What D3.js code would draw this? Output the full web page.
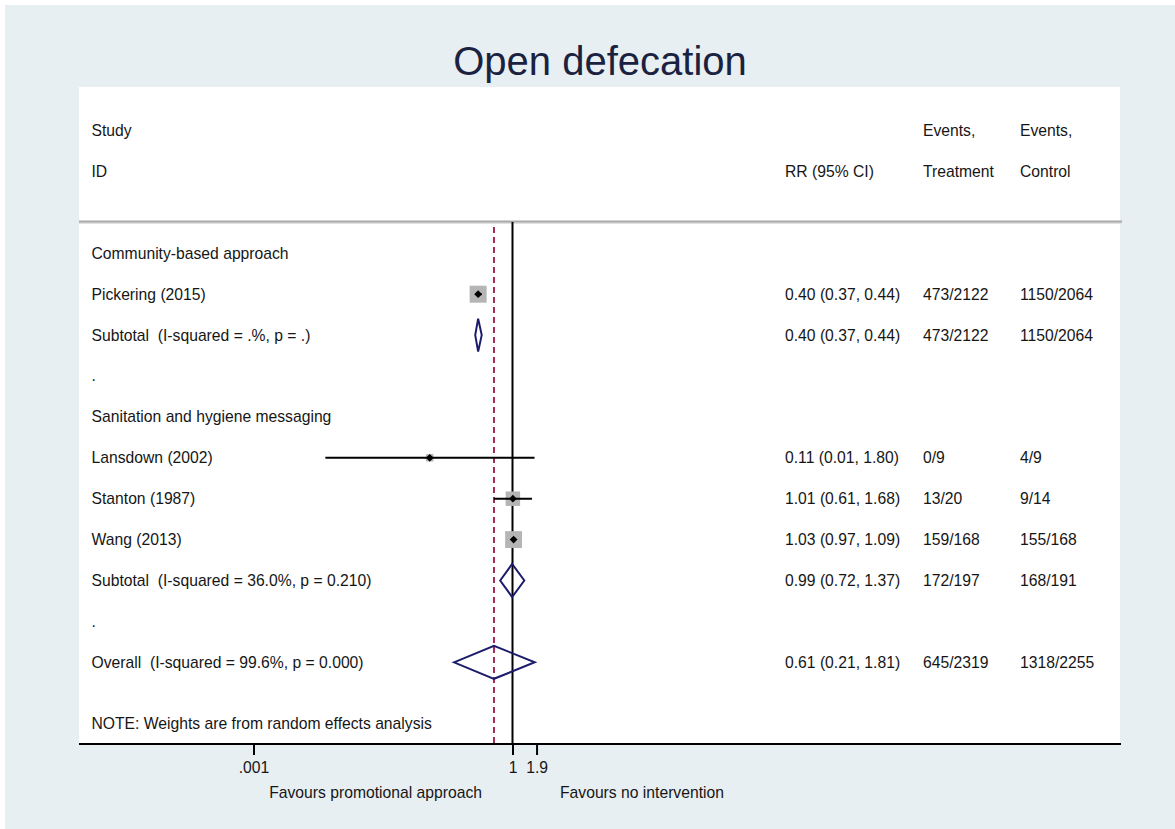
<!DOCTYPE html>
<html><head><meta charset="utf-8">
<script src="https://cdn.jsdelivr.net/npm/d3@7"></script>
<style>
body{margin:0;background:#fff}
svg{display:block}
text{font-family:Arial,"Liberation Sans",sans-serif;white-space:pre}
</style></head>
<body><svg id="chart" width="1175" height="829"></svg>
<script>
// ---- data ----
const chartTitle = "Open defecation";
const headerLeft = ["Study", "ID"];
const headerCI = "RR (95% CI)";
const headerTreat = ["Events,", "Treatment"];
const headerCtrl = ["Events,", "Control"];
const rowLabels = [
  "Community-based approach",
  "Pickering (2015)",
  "Subtotal  (I-squared = .%, p = .)",
  ".",
  "Sanitation and hygiene messaging",
  "Lansdown (2002)",
  "Stanton (1987)",
  "Wang (2013)",
  "Subtotal  (I-squared = 36.0%, p = 0.210)",
  ".",
  "Overall  (I-squared = 99.6%, p = 0.000)"
];
const rowTypes = ["group","study","subtotal","blank","group","study","study","study","subtotal","blank","overall"];
const rr    = [null, 0.40, 0.40, null, null, 0.11,   1.01, 1.03, 0.99, null, 0.61];
const lower = [null, 0.37, 0.37, null, null, 0.0068, 0.61, 0.97, 0.72, null, 0.21];
const upper = [null, 0.44, 0.44, null, null, 1.80,   1.68, 1.09, 1.37, null, 1.81];
const weights = [null, 34.5, null, null, null, 6.5, 25.0, 34.0, null, null, null];
const ciText = ["", "0.40 (0.37, 0.44)", "0.40 (0.37, 0.44)", "", "", "0.11 (0.01, 1.80)", "1.01 (0.61, 1.68)", "1.03 (0.97, 1.09)", "0.99 (0.72, 1.37)", "", "0.61 (0.21, 1.81)"];
const eventsTreatment = ["", "473/2122", "473/2122", "", "", "0/9", "13/20", "159/168", "172/197", "", "645/2319"];
const eventsControl   = ["", "1150/2064", "1150/2064", "", "", "4/9", "9/14", "155/168", "168/191", "", "1318/2255"];
const overallRR = 0.61;
const axisTicks = [0.001, 1, 1.9];
const axisTickLabels = [".001", "1", "1.9"];
const favoursLeft = "Favours promotional approach";
const favoursRight = "Favours no intervention";
const noteText = "NOTE: Weights are from random effects analysis";

// ---- layout ----
const svg = d3.select("#chart");
const W = 1175, H = 829;
const textCol = "#161616";
const fs = 15.7;

svg.append("rect").attr("width", W).attr("height", H).attr("fill", "#ffffff");
svg.append("rect").attr("x", 5).attr("y", 5).attr("width", W - 5).attr("height", H - 5).attr("fill", "#e8eff2");

const plotL = 79, plotR = 1120, plotT = 87, plotB = 744;
svg.append("rect").attr("x", plotL).attr("y", plotT).attr("width", plotR - plotL).attr("height", plotB - plotT).attr("fill", "#ffffff");

const x = d3.scaleLog().domain([0.001, 1]).range([253.5, 512.5]);
const y = d3.scaleLinear().domain([0, 10]).range([253.3, 662.3]);

// title
svg.append("text").attr("x", 600).attr("y", 75).attr("text-anchor", "middle")
  .attr("font-size", 40).attr("fill", "#1b2240").text(chartTitle);

// header
const colLeft = 91.5, colCI = 785, colTreat = 923, colCtrl = 1020;
function txt(xx, yy, s, anchor) {
  return svg.append("text").attr("x", xx).attr("y", yy).attr("dy", "0.35em")
    .attr("font-size", fs).attr("fill", textCol).attr("text-anchor", anchor || "start").text(s);
}
headerLeft.forEach((s, i) => txt(colLeft, y(-3 + i), s));
txt(colCI, y(-2), headerCI);
headerTreat.forEach((s, i) => txt(colTreat, y(-3 + i), s));
headerCtrl.forEach((s, i) => txt(colCtrl, y(-3 + i), s));

// separator under header
svg.append("line").attr("x1", plotL).attr("x2", plotR + 2).attr("y1", 223).attr("y2", 223)
  .attr("stroke", "#e0e0e0").attr("stroke-width", 2);
svg.append("line").attr("x1", plotL).attr("x2", plotR + 2).attr("y1", 221.5).attr("y2", 221.5)
  .attr("stroke", "#a9a9a9").attr("stroke-width", 2);

// reference lines
svg.append("line").attr("x1", x(1)).attr("x2", x(1)).attr("y1", 222).attr("y2", plotB)
  .attr("stroke", "#000").attr("stroke-width", 2);
svg.append("line").attr("x1", x(overallRR)).attr("x2", x(overallRR)).attr("y1", 227).attr("y2", plotB)
  .attr("stroke", "#a32a55").attr("stroke-width", 2).attr("stroke-dasharray", "6,4");

// row labels and columns
rowLabels.forEach((s, i) => {
  txt(colLeft, y(i), s);
  if (ciText[i]) txt(colCI, y(i), ciText[i]);
  if (eventsTreatment[i]) txt(colTreat, y(i), eventsTreatment[i]);
  if (eventsControl[i]) txt(colCtrl, y(i), eventsControl[i]);
});
txt(colLeft, y(11.5), noteText);

// study markers
const boxSide = d3.scaleSqrt().domain([0, 34.5]).range([0, 17]);
const rows = rowLabels.map((s, i) => ({i, type: rowTypes[i], rr: rr[i], lo: lower[i], hi: upper[i], w: weights[i]}));
const studies = rows.filter(d => d.type === "study");
const g = svg.append("g");
studies.forEach(d => {
  const cy = y(d.i), s = boxSide(d.w);
  g.append("rect").attr("x", x(d.rr) - s / 2).attr("y", cy - s / 2).attr("width", s).attr("height", s)
    .attr("fill", "#b5b5b5");
  g.append("line").attr("x1", x(d.lo)).attr("x2", x(d.hi)).attr("y1", cy).attr("y2", cy)
    .attr("stroke", "#000").attr("stroke-width", 2);
  g.append("path").attr("transform", `translate(${x(d.rr)},${cy}) rotate(45)`)
    .attr("d", d3.symbol().type(d3.symbolSquare).size(30)).attr("fill", "#000");
});

// diamonds
const pooled = rows.filter(d => d.type === "subtotal" || d.type === "overall");
pooled.forEach(d => {
  const cy = y(d.i), h = 16.5;
  const pts = [[x(d.lo), cy], [x(d.rr), cy - h], [x(d.hi), cy], [x(d.rr), cy + h]];
  g.append("path").attr("d", d3.line()(pts) + "Z")
    .attr("fill", "none").attr("stroke", "#1c1c6c").attr("stroke-width", 2).attr("stroke-linejoin", "miter");
});

// x axis
svg.append("line").attr("x1", plotL).attr("x2", plotR + 1).attr("y1", plotB).attr("y2", plotB)
  .attr("stroke", "#000").attr("stroke-width", 2.2);
const axisG = svg.append("g").attr("transform", `translate(0,${plotB})`)
  .call(d3.axisBottom(x).tickValues(axisTicks).tickFormat((d, i) => axisTickLabels[i]).tickSize(11).tickPadding(7));
axisG.select(".domain").remove();
axisG.selectAll(".tick line").attr("stroke", "#000").attr("stroke-width", 2);
axisG.selectAll(".tick text").attr("font-size", fs).attr("fill", textCol)
  .attr("font-family", "Arial, 'Liberation Sans', sans-serif");

txt(482, 793, favoursLeft, "end");
txt(560, 793, favoursRight, "start");
</script>
</body></html>
